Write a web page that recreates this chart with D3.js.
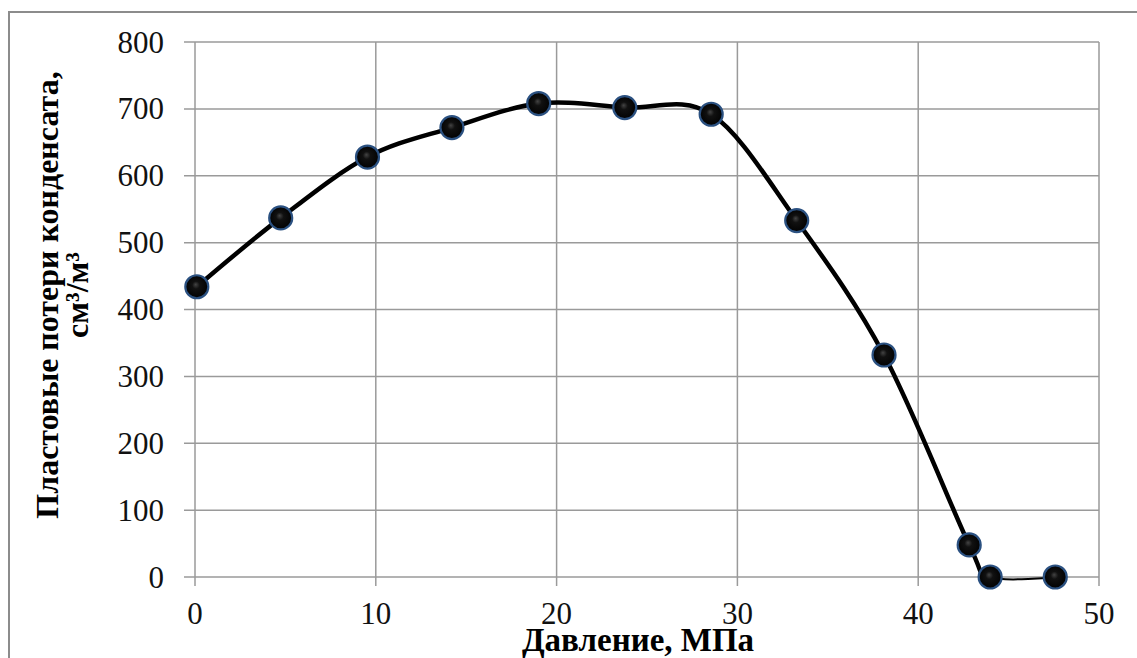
<!DOCTYPE html>
<html><head><meta charset="utf-8">
<script src="https://cdn.jsdelivr.net/npm/d3@7"></script>
<style>html,body{margin:0;padding:0;background:#fff;overflow:hidden}</style>
</head><body>
<svg id="chart" width="1137" height="658"></svg>
<script>
// ---- data ----
const pressure = [0.1, 4.74, 9.54, 14.21, 19.01, 23.77, 28.55, 33.28, 38.11, 42.82, 43.98, 47.58];
const losses   = [434, 537, 628, 672, 708, 702, 692, 533, 332, 48, 0, 0];
const xTicks = [0, 10, 20, 30, 40, 50];
const yTicks = [0, 100, 200, 300, 400, 500, 600, 700, 800];
const xTitle = "Давление, МПа";
const yTitleLine1 = "Пластовые потери конденсата,";
const yTitleLine2 = "см³/м³";

const svg = d3.select("#chart");
const L = 195, R = 1099, T = 42, B = 577;
const x = d3.scaleLinear().domain([0, 50]).range([L, R]);
const y = d3.scaleLinear().domain([0, 800]).range([B, T]);
const grid = "#9a9a9a";
const serif = "'Liberation Serif','Times New Roman',serif";

// outer frame (top + left)
svg.append("path").attr("d", "M9,658 L9,12 L1137,12").attr("fill","none").attr("stroke","#8c8c8c").attr("stroke-width",2);

// gridlines
const g = svg.append("g");
g.selectAll(".hg").data(yTicks).join("line")
  .attr("x1", L - 11).attr("x2", R).attr("y1", d => y(d)).attr("y2", d => y(d))
  .attr("stroke", grid).attr("stroke-width", 1.5);
g.selectAll(".vg").data(xTicks).join("line")
  .attr("x1", d => x(d)).attr("x2", d => x(d)).attr("y1", T).attr("y2", B + 9)
  .attr("stroke", grid).attr("stroke-width", 1.5);

// tick labels
svg.append("g").selectAll("text").data(yTicks).join("text")
  .attr("x", 164).attr("y", d => y(d)).attr("dy", "0.34em")
  .attr("text-anchor", "end").attr("font-family", serif).attr("font-size", 31)
  .attr("fill", "#111").text(d => d);
svg.append("g").selectAll("text").data(xTicks).join("text")
  .attr("x", d => x(d)).attr("y", 624)
  .attr("text-anchor", "middle").attr("font-family", serif).attr("font-size", 31)
  .attr("fill", "#111").text(d => d);

// axis titles
svg.append("text").attr("x", 638).attr("y", 651).attr("text-anchor", "middle")
  .attr("font-family", serif).attr("font-weight", "bold").attr("font-size", 33)
  .attr("fill", "#000").text(xTitle);
const yt = svg.append("text").attr("transform", "translate(58,295) rotate(-90)")
  .attr("text-anchor", "middle").attr("font-family", serif).attr("font-weight", "bold")
  .attr("font-size", 32).attr("fill", "#000");
yt.append("tspan").attr("x", 0).attr("y", 0).text(yTitleLine1);
yt.append("tspan").attr("x", 0).attr("y", 30).text(yTitleLine2);

// line
const pts = pressure.map((p, i) => [p, losses[i]]);
const line = d3.line().x(d => x(d[0])).y(d => y(d[1])).curve(d3.curveCardinal.tension(0));
const defs = svg.append("defs");
defs.append("clipPath").attr("id", "cl").append("rect")
  .attr("x", 0).attr("y", 0).attr("width", x(pressure[10])).attr("height", 658);
defs.append("clipPath").attr("id", "cr").append("rect")
  .attr("x", x(pressure[10])).attr("y", 0).attr("width", 1137).attr("height", 658);
svg.append("path").attr("d", line(pts)).attr("fill", "none").attr("stroke", "#000")
  .attr("stroke-width", 4.5).attr("clip-path", "url(#cl)");
svg.append("path").attr("d", line(pts)).attr("fill", "none").attr("stroke", "#000")
  .attr("stroke-width", 2).attr("clip-path", "url(#cr)");

// markers
const rg = defs.append("radialGradient").attr("id", "mk").attr("cx", "50%").attr("cy", "50%").attr("r", "55%")
  .attr("fx", "45%").attr("fy", "40%");
rg.append("stop").attr("offset", "0%").attr("stop-color", "#444");
rg.append("stop").attr("offset", "30%").attr("stop-color", "#111");
rg.append("stop").attr("offset", "100%").attr("stop-color", "#000");
svg.append("g").selectAll("circle").data(pts).join("circle")
  .attr("cx", d => x(d[0])).attr("cy", d => y(d[1])).attr("r", 11.5)
  .attr("fill", "url(#mk)").attr("stroke", "#2b5181").attr("stroke-width", 2.2);
</script>
</body></html>
